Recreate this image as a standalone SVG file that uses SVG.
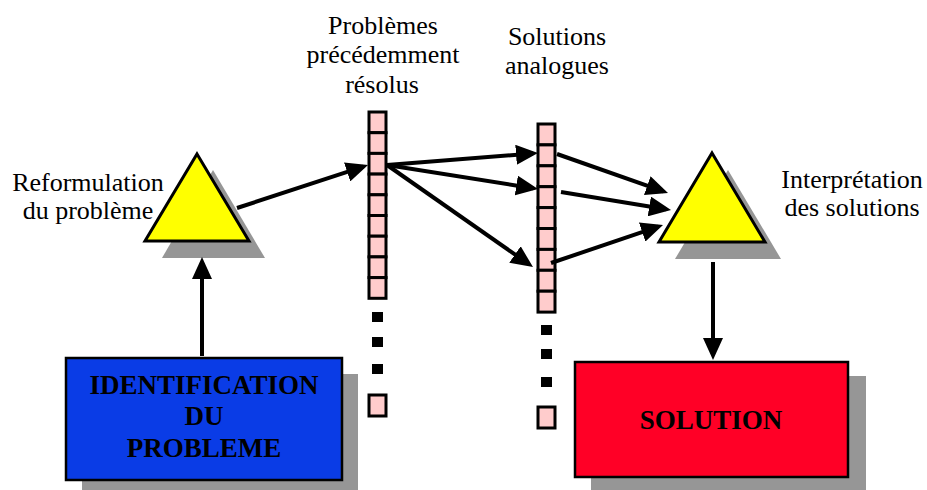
<svg xmlns="http://www.w3.org/2000/svg" width="927" height="490" viewBox="0 0 927 490">
  <defs>
    <style>
      .lbl { font-family: "Liberation Serif", "Times New Roman", serif; font-size: 26px; fill: #000; text-anchor: middle; }
      .box-t { font-family: "Liberation Serif", "Times New Roman", serif; font-size: 27px; font-weight: bold; fill: #000; text-anchor: middle; }
      .shadow { fill: #969696; }
      .tri { fill: #FFFF00; stroke: #000; stroke-width: 3; stroke-linejoin: miter; }
      .cell { fill: #FFCCCC; stroke: #000; stroke-width: 3; }
      .dot { fill: #000; }
      .conn { stroke: #000; stroke-width: 4; fill: none; }
    </style>
    <marker id="head" markerUnits="userSpaceOnUse" markerWidth="22" markerHeight="20" refX="17" refY="10" orient="auto">
      <path d="M0,0 L22,10 L0,20 z" fill="#000"/>
    </marker>
  </defs>

  <rect width="927" height="490" fill="#fff"/>

  <!-- reformulation triangle -->
  <g id="reformulation">
    <polygon class="shadow" points="213,170 265,258 162,258"/>
    <polygon class="tri" points="197,154 249,241 145,241"/>
    <text class="lbl" x="88" y="191">Reformulation</text>
    <text class="lbl" x="88" y="219">du problème</text>
  </g>

  <!-- interpretation triangle -->
  <g id="interpretation">
    <polygon class="shadow" points="728,170 781,259 675,259"/>
    <polygon class="tri" points="712,153 765,242 659,242"/>
    <text class="lbl" x="852" y="188">Interprétation</text>
    <text class="lbl" x="852" y="216">des solutions</text>
  </g>

  <!-- stack of previously solved problems -->
  <g id="problemes">
    <text class="lbl" x="383" y="34">Problèmes</text>
    <text class="lbl" x="383" y="63">précédemment</text>
    <text class="lbl" x="382" y="93">résolus</text>
    <rect class="cell" x="369" y="112" width="17" height="20.7"/>
    <rect class="cell" x="369" y="132.7" width="17" height="20.7"/>
    <rect class="cell" x="369" y="153.4" width="17" height="20.7"/>
    <rect class="cell" x="369" y="174.1" width="17" height="20.7"/>
    <rect class="cell" x="369" y="194.8" width="17" height="20.7"/>
    <rect class="cell" x="369" y="215.5" width="17" height="20.7"/>
    <rect class="cell" x="369" y="236.2" width="17" height="20.7"/>
    <rect class="cell" x="369" y="256.9" width="17" height="20.7"/>
    <rect class="cell" x="369" y="277.6" width="17" height="20.7"/>
    <rect class="dot" x="372" y="312" width="11" height="10"/>
    <rect class="dot" x="372" y="337" width="11" height="10"/>
    <rect class="dot" x="372" y="364" width="11" height="10"/>
    <rect class="cell" x="369" y="395" width="17" height="21"/>
  </g>

  <!-- stack of analogous solutions -->
  <g id="solutions-analogues">
    <text class="lbl" x="557" y="45">Solutions</text>
    <text class="lbl" x="557" y="74">analogues</text>
    <rect class="cell" x="538" y="124" width="17" height="20.9"/>
    <rect class="cell" x="538" y="144.9" width="17" height="20.9"/>
    <rect class="cell" x="538" y="165.8" width="17" height="20.9"/>
    <rect class="cell" x="538" y="186.7" width="17" height="20.9"/>
    <rect class="cell" x="538" y="207.6" width="17" height="20.9"/>
    <rect class="cell" x="538" y="228.5" width="17" height="20.9"/>
    <rect class="cell" x="538" y="249.4" width="17" height="20.9"/>
    <rect class="cell" x="538" y="270.3" width="17" height="20.9"/>
    <rect class="cell" x="538" y="291.2" width="17" height="20.9"/>
    <rect class="dot" x="541" y="325" width="11" height="10"/>
    <rect class="dot" x="541" y="349" width="11" height="10"/>
    <rect class="dot" x="541" y="377" width="11" height="10"/>
    <rect class="cell" x="538" y="407" width="17" height="21"/>
  </g>

  <!-- problem identification box -->
  <g id="identification">
    <rect class="shadow" x="82" y="374" width="276" height="122"/>
    <rect x="66" y="358" width="276" height="122" fill="#0A3CE6" stroke="#000" stroke-width="2.5"/>
    <text class="box-t" x="204" y="394">IDENTIFICATION</text>
    <text class="box-t" x="204" y="425">DU</text>
    <text class="box-t" x="204" y="457">PROBLEME</text>
  </g>

  <!-- solution box -->
  <g id="solution">
    <rect class="shadow" x="591" y="376" width="275" height="120"/>
    <rect x="575" y="362" width="273" height="115" fill="#FF0026" stroke="#000" stroke-width="2.5"/>
    <text class="box-t" x="711" y="429">SOLUTION</text>
  </g>

  <!-- connectors -->
  <g id="connectors">
    <line class="conn" x1="202" y1="356" x2="202" y2="262" marker-end="url(#head)"/>
    <line class="conn" x1="237" y1="208" x2="363.3" y2="166.6" marker-end="url(#head)"/>
    <line class="conn" x1="387" y1="165" x2="533" y2="153.4" marker-end="url(#head)"/>
    <line class="conn" x1="387" y1="165" x2="533.1" y2="188.2" marker-end="url(#head)"/>
    <line class="conn" x1="387" y1="165" x2="528.9" y2="264.2" marker-end="url(#head)"/>
    <line class="conn" x1="557" y1="154" x2="663.3" y2="191.3" marker-end="url(#head)"/>
    <line class="conn" x1="561" y1="192" x2="666.1" y2="209.2" marker-end="url(#head)"/>
    <line class="conn" x1="551" y1="263" x2="658.3" y2="226.6" marker-end="url(#head)"/>
    <line class="conn" x1="713" y1="262" x2="713" y2="355" marker-end="url(#head)"/>
  </g>
</svg>
